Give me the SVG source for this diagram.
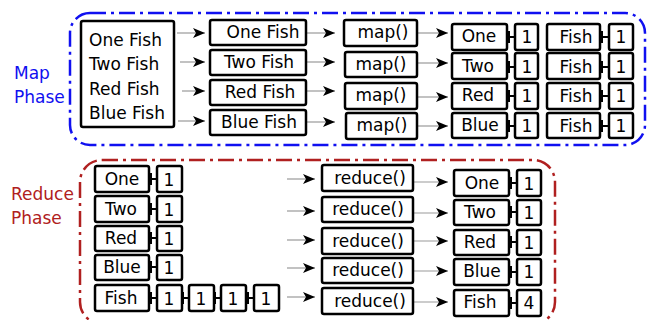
<svg xmlns="http://www.w3.org/2000/svg" width="653" height="320" viewBox="0 0 653 320">
<defs>
<marker id="ah" markerUnits="userSpaceOnUse" markerWidth="13" markerHeight="11" refX="12" refY="5" orient="auto">
<path d="M0,0 L12,5 L0,10 L3,5 Z" fill="#000"/>
</marker>
<style>
.b{fill:#fff;stroke:#000;stroke-width:2.5}
.t{font-family:"DejaVu Sans",sans-serif;font-size:17px;fill:#000}
.m{text-anchor:middle}
.ar{stroke:#999;stroke-width:1.2;fill:none;marker-end:url(#ah)}
.h{stroke:#000;stroke-width:2;fill:none}
.phase{fill:none;stroke-width:2.5;stroke-dasharray:16 5 3 5}
</style>
</defs>
<rect width="653" height="320" fill="#fff"/>
<g id="mapPhase">
<rect class="phase" x="70" y="13" width="575" height="132" rx="20" stroke="#1010f0"/>
<text class="t" x="14" y="79" style="fill:#1010f0">Map</text>
<text class="t" x="14" y="103" style="fill:#1010f0">Phase</text>
</g>
<g id="reducePhase">
<rect class="phase" x="80" y="160" width="475" height="164" rx="22" stroke="#b02020"/>
<text class="t" x="11" y="200" style="fill:#b02020">Reduce</text>
<text class="t" x="11" y="224" style="fill:#b02020">Phase</text>
</g>
<g id="connectors">
<path class="ar" d="M177,33 H205"/>
<path class="ar" d="M180,62 H205"/>
<path class="ar" d="M182,91 H205"/>
<path class="ar" d="M178,121 H205"/>
<path class="ar" d="M306,33 H335"/>
<path class="ar" d="M306,62 H335"/>
<path class="ar" d="M306,91 H335"/>
<path class="ar" d="M306,122 H335"/>
<path class="ar" d="M417,33 H448"/>
<path class="ar" d="M417,63 H448"/>
<path class="ar" d="M417,97 H448"/>
<path class="ar" d="M417,126 H448"/>
<path class="ar" d="M287,179 H315"/>
<path class="ar" d="M287,211 H315"/>
<path class="ar" d="M287,240 H315"/>
<path class="ar" d="M287,268 H315"/>
<path class="ar" d="M287,297 H315"/>
<path class="ar" d="M413,182 H448"/>
<path class="ar" d="M413,213 H448"/>
<path class="ar" d="M413,241 H448"/>
<path class="ar" d="M413,271 H448"/>
<path class="ar" d="M413,302 H448"/>
<path class="h" d="M509,31 v12 M509,37 H515 M509,61 v12 M509,67 H515 M509,90 v12 M509,96 H515 M509,120 v12 M509,126 H515"/>
<path class="h" d="M602,31 v12 M602,37 H609 M602,61 v12 M602,67 H609 M602,90 v12 M602,96 H609 M602,120 v12 M602,126 H609"/>
<path class="h" d="M151,173 v12 M151,179 H157 M151,203 v12 M151,209 H157 M151,232 v12 M151,238 H157 M151,261 v12 M151,267 H157 M151,292 v12 M151,298 H157"/>
<path class="h" d="M183,292 v12 M183,298 H189 M215,292 v12 M215,298 H221 M248,292 v12 M248,298 H254"/>
<path class="h" d="M511,177 v12 M511,183 H517 M511,206 v12 M511,212 H517 M511,236 v12 M511,242 H517 M511,266 v12 M511,272 H517 M511,297 v12 M511,303 H517"/>
</g>
<g id="input">
<rect class="b" x="81" y="21" width="93" height="106" rx="2"/>
<text class="t" x="89" y="46">One Fish</text>
<text class="t" x="89" y="70">Two Fish</text>
<text class="t" x="89" y="95">Red Fish</text>
<text class="t" x="89" y="119">Blue Fish</text>
</g>
<g id="split1"><rect class="b" x="210" y="20" width="96" height="25" rx="2"/><text class="t m" x="263" y="38">One Fish</text></g>
<g id="split2"><rect class="b" x="210" y="50" width="96" height="25" rx="2"/><text class="t m" x="259" y="68">Two Fish</text></g>
<g id="split3"><rect class="b" x="210" y="80" width="96" height="25" rx="2"/><text class="t m" x="260" y="98">Red Fish</text></g>
<g id="split4"><rect class="b" x="210" y="110" width="96" height="25" rx="2"/><text class="t m" x="259" y="128">Blue Fish</text></g>
<g id="map1"><rect class="b" x="344" y="20" width="73" height="26" rx="2"/><text class="t m" x="383" y="38">map()</text></g>
<g id="map2"><rect class="b" x="345" y="52" width="72" height="25" rx="2"/><text class="t m" x="381" y="70">map()</text></g>
<g id="map3"><rect class="b" x="345" y="83" width="72" height="26" rx="2"/><text class="t m" x="381" y="101">map()</text></g>
<g id="map4"><rect class="b" x="346" y="113" width="71" height="26" rx="2"/><text class="t m" x="382" y="131">map()</text></g>
<g id="mo1"><rect class="b" x="452" y="24" width="55" height="26" rx="2"/><text class="t m" x="479" y="42">One</text><rect class="b" x="515" y="24" width="23" height="26" rx="2"/><text class="t m" x="527" y="43">1</text><rect class="b" x="547" y="24" width="53" height="26" rx="2"/><text class="t m" x="576" y="43">Fish</text><rect class="b" x="609" y="24" width="24" height="26" rx="2"/><text class="t m" x="621" y="43">1</text></g>
<g id="mo2"><rect class="b" x="452" y="53" width="55" height="26" rx="2"/><text class="t m" x="478" y="72">Two</text><rect class="b" x="515" y="53" width="23" height="26" rx="2"/><text class="t m" x="527" y="73">1</text><rect class="b" x="547" y="53" width="53" height="26" rx="2"/><text class="t m" x="576" y="73">Fish</text><rect class="b" x="609" y="53" width="24" height="26" rx="2"/><text class="t m" x="621" y="73">1</text></g>
<g id="mo3"><rect class="b" x="452" y="83" width="55" height="26" rx="2"/><text class="t m" x="478" y="101">Red</text><rect class="b" x="515" y="83" width="23" height="26" rx="2"/><text class="t m" x="527" y="102">1</text><rect class="b" x="547" y="83" width="53" height="26" rx="2"/><text class="t m" x="576" y="102">Fish</text><rect class="b" x="609" y="83" width="24" height="26" rx="2"/><text class="t m" x="621" y="102">1</text></g>
<g id="mo4"><rect class="b" x="452" y="113" width="55" height="25" rx="2"/><text class="t m" x="480" y="131">Blue</text><rect class="b" x="515" y="113" width="23" height="25" rx="2"/><text class="t m" x="527" y="132">1</text><rect class="b" x="547" y="113" width="53" height="25" rx="2"/><text class="t m" x="576" y="132">Fish</text><rect class="b" x="609" y="113" width="24" height="25" rx="2"/><text class="t m" x="621" y="132">1</text></g>
<g id="ri1"><rect class="b" x="95" y="166" width="54" height="26" rx="2"/><text class="t m" x="122" y="185">One</text><rect class="b" x="157" y="166" width="25" height="26" rx="2"/><text class="t m" x="169" y="186">1</text></g>
<g id="ri2"><rect class="b" x="95" y="196" width="54" height="26" rx="2"/><text class="t m" x="121" y="215">Two</text><rect class="b" x="157" y="196" width="25" height="26" rx="2"/><text class="t m" x="169" y="216">1</text></g>
<g id="ri3"><rect class="b" x="95" y="226" width="54" height="25" rx="2"/><text class="t m" x="121" y="244">Red</text><rect class="b" x="157" y="226" width="25" height="25" rx="2"/><text class="t m" x="169" y="245">1</text></g>
<g id="ri4"><rect class="b" x="95" y="255" width="54" height="25" rx="2"/><text class="t m" x="122" y="273">Blue</text><rect class="b" x="157" y="255" width="25" height="25" rx="2"/><text class="t m" x="169" y="274">1</text></g>
<g id="ri5"><rect class="b" x="95" y="285" width="54" height="26" rx="2"/><text class="t m" x="121" y="304">Fish</text><rect class="b" x="157" y="285" width="25" height="26" rx="2"/><text class="t m" x="169" y="305">1</text><rect class="b" x="189" y="285" width="25" height="26" rx="2"/><text class="t m" x="201" y="305">1</text><rect class="b" x="221" y="285" width="25" height="26" rx="2"/><text class="t m" x="233" y="305">1</text><rect class="b" x="254" y="285" width="25" height="26" rx="2"/><text class="t m" x="266" y="305">1</text></g>
<g id="red1"><rect class="b" x="322" y="165" width="91" height="26" rx="2"/><text class="t m" x="370" y="184">reduce()</text></g>
<g id="red2"><rect class="b" x="322" y="197" width="91" height="25" rx="2"/><text class="t m" x="368" y="215">reduce()</text></g>
<g id="red3"><rect class="b" x="322" y="228" width="91" height="26" rx="2"/><text class="t m" x="368" y="247">reduce()</text></g>
<g id="red4"><rect class="b" x="322" y="258" width="91" height="25" rx="2"/><text class="t m" x="368" y="276">reduce()</text></g>
<g id="red5"><rect class="b" x="322" y="288" width="91" height="26" rx="2"/><text class="t m" x="370" y="307">reduce()</text></g>
<g id="ro1"><rect class="b" x="454" y="170" width="55" height="26" rx="2"/><text class="t m" x="482" y="189">One</text><rect class="b" x="517" y="170" width="24" height="26" rx="2"/><text class="t m" x="529" y="190">1</text></g>
<g id="ro2"><rect class="b" x="454" y="200" width="55" height="25" rx="2"/><text class="t m" x="480" y="218">Two</text><rect class="b" x="517" y="200" width="24" height="25" rx="2"/><text class="t m" x="529" y="219">1</text></g>
<g id="ro3"><rect class="b" x="454" y="230" width="55" height="25" rx="2"/><text class="t m" x="480" y="248">Red</text><rect class="b" x="517" y="230" width="24" height="25" rx="2"/><text class="t m" x="529" y="249">1</text></g>
<g id="ro4"><rect class="b" x="454" y="259" width="55" height="26" rx="2"/><text class="t m" x="482" y="277">Blue</text><rect class="b" x="517" y="259" width="24" height="26" rx="2"/><text class="t m" x="529" y="278">1</text></g>
<g id="ro5"><rect class="b" x="454" y="290" width="55" height="26" rx="2"/><text class="t m" x="480" y="308">Fish</text><rect class="b" x="517" y="290" width="24" height="26" rx="2"/><text class="t m" x="529" y="309">4</text></g>
</svg>
